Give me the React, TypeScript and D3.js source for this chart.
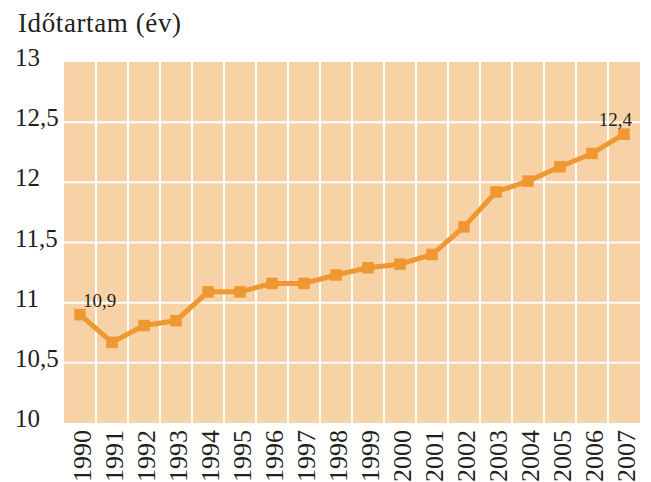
import React, { useEffect, useRef } from 'react';
import * as d3 from 'd3';

const years = ['1990', '1991', '1992', '1993', '1994', '1995', '1996', '1997', '1998', '1999',
  '2000', '2001', '2002', '2003', '2004', '2005', '2006', '2007'];
const duration = [10.9, 10.67, 10.81, 10.85, 11.09, 11.09, 11.16, 11.16, 11.23, 11.29,
  11.32, 11.4, 11.63, 11.92, 12.01, 12.13, 12.24, 12.4];
const yTicks = [10, 10.5, 11, 11.5, 12, 12.5, 13];
const labelled = [{ year: '1990', text: '10,9' }, { year: '2007', text: '12,4' }];

const W = 651;
const H = 482;

const App = () => {
  const ref = useRef<SVGSVGElement>(null);

  useEffect(() => {
    const svg = d3.select(ref.current);
    svg.selectAll('*').remove();

    const font = '"Liberation Serif", serif';
    const ink = '#231f20';
    const orange = '#ef9731';
    const margin = { top: 62, right: 11, bottom: 59, left: 64 };
    const width = W - margin.left - margin.right;
    const height = H - margin.top - margin.bottom;

    const x = d3.scaleBand().domain(years).range([0, width]);
    const y = d3.scaleLinear().domain([10, 13]).range([height, 0]);
    const fmt = (v: number) => String(v).replace('.', ',');

    // title
    svg.append('text')
      .attr('x', 18)
      .attr('y', 32)
      .attr('font-family', font)
      .attr('font-size', 27)
      .attr('textLength', 163)
      .attr('fill', ink)
      .text('Időtartam (év)');

    const g = svg.append('g').attr('transform', `translate(${margin.left},${margin.top})`);

    // background
    g.append('rect')
      .attr('width', width)
      .attr('height', height)
      .attr('fill', '#f7d2a6');

    // grid
    g.selectAll('.vgrid')
      .data(years.slice(1))
      .enter().append('line')
      .attr('x1', d => x(d)!)
      .attr('x2', d => x(d)!)
      .attr('y1', 0)
      .attr('y2', height)
      .attr('stroke', '#fff')
      .attr('stroke-width', 2);

    g.selectAll('.hgrid')
      .data(yTicks.slice(1, -1))
      .enter().append('line')
      .attr('x1', 0)
      .attr('x2', width)
      .attr('y1', d => y(d))
      .attr('y2', d => y(d))
      .attr('stroke', '#fff')
      .attr('stroke-width', 2);

    // y labels
    svg.append('g')
      .selectAll('text')
      .data(yTicks)
      .enter().append('text')
      .attr('x', 15)
      .attr('y', d => margin.top + y(d) + 4)
      .attr('font-family', font)
      .attr('font-size', 25)
      .attr('fill', ink)
      .text(d => fmt(d));

    // x labels
    svg.append('g')
      .selectAll('text')
      .data(years)
      .enter().append('text')
      .attr('transform', d => `translate(${margin.left + x(d)! + x.bandwidth() / 2 + 2},${margin.top + height + 7}) rotate(-90)`)
      .attr('text-anchor', 'end')
      .attr('dy', '0.35em')
      .attr('font-family', font)
      .attr('font-size', 26)
      .attr('fill', ink)
      .text(d => d);

    // line
    const line = d3.line<number>()
      .x((d, i) => x(years[i])! + x.bandwidth() / 2)
      .y(d => y(d));

    g.append('path')
      .datum(duration)
      .attr('d', line)
      .attr('fill', 'none')
      .attr('stroke', orange)
      .attr('stroke-width', 5)
      .attr('stroke-linejoin', 'round');

    const s = 11.5;
    g.selectAll('.marker')
      .data(duration)
      .enter().append('rect')
      .attr('x', (d, i) => x(years[i])! + x.bandwidth() / 2 - s / 2)
      .attr('y', d => y(d) - s / 2)
      .attr('width', s)
      .attr('height', s)
      .attr('fill', orange);

    // value labels
    g.selectAll('.vlabel')
      .data(labelled)
      .enter().append('text')
      .attr('x', (d, i) => x(d.year)! + x.bandwidth() / 2 + (i === 0 ? 3 : 8))
      .attr('y', d => y(duration[years.indexOf(d.year)]) - 8)
      .attr('text-anchor', (d, i) => (i === 0 ? 'start' : 'end'))
      .attr('font-family', font)
      .attr('font-size', 19)
      .attr('fill', ink)
      .text(d => d.text);
  }, []);

  return (
    <svg
      ref={ref}
      width={W}
      height={H}
      style={{ position: 'absolute', left: 0, top: 0, background: '#fff' }}
    />
  );
};

export default App;
